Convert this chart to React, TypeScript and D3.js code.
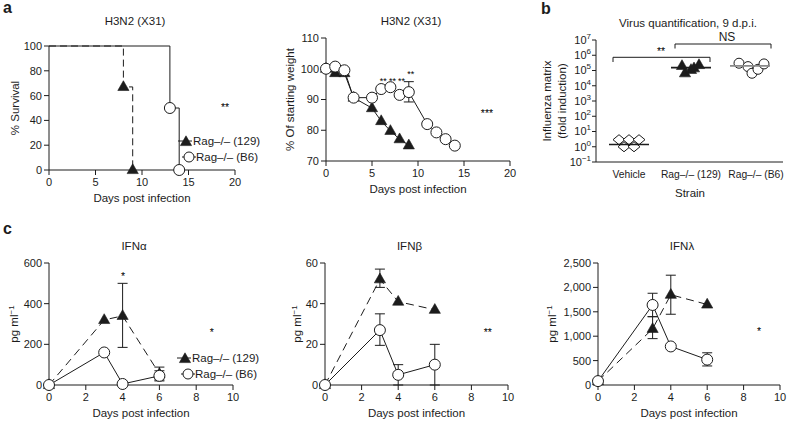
import React from "react";
import * as d3 from "d3";

const FONT = "'Liberation Sans', Arial, Helvetica, sans-serif";
const INK = "#1c1c1c";

// ---------- Panel a: survival ----------
const survivalDays129 = [0, 8, 9];
const survival129 = [100, 67, 0];
const survivalDaysB6 = [0, 13, 14];
const survivalB6 = [100, 50, 0];
const survivalXTicks = [0, 5, 10, 15, 20];
const survivalYTicks = [0, 20, 40, 60, 80, 100];

// ---------- Panel a: weight ----------
const weightDaysB6 = [0, 1, 2, 3, 5, 6, 7, 8, 9, 11, 12, 13, 14];
const weightB6 = [100, 100.7, 99.5, 90.6, 90.6, 93.4, 94, 91.5, 92.4, 82, 79.3, 77.1, 75];
const weightErrDayB6 = 9;
const weightErrB6 = [89.2, 95.8];
const weightDays129 = [0, 1, 2, 3, 5, 6, 7, 8, 9];
const weight129 = [100, 98.6, 98.6, 90.6, 87.2, 83, 79.8, 77.1, 75.1];
const weightStarDays = [6, 7, 8, 9];
const weightStarLevels = [96.7, 96.7, 96.7, 98.9];
const weightXTicks = [0, 5, 10, 15, 20];
const weightYTicks = [70, 80, 90, 100, 110];

// ---------- Panel b: virus quantification ----------
const strains = ["Vehicle", "Rag–/– (129)", "Rag–/– (B6)"];
const vehicleValues = [2.9, 1.0, 2.9, 1.0, 2.9];
const rag129Values = [2.0e5, 6.6e4, 1.1e5, 1.4e5, 2.3e5];
const ragB6Values = [3.0e5, 1.8e5, 6.6e4, 1.2e5, 2.7e5];
const strainMeans = [1.4, 1.55e5, 2.0e5];
const jitterVehicle = [-10, -5, 0, 5, 10];
const jitter129 = [-8, -5, 1, 4, 9];
const jitterB6 = [-12, -3, 1, 7, 13];
const logExponents = [-1, 0, 1, 2, 3, 4, 5, 6, 7];

// ---------- Panel c: interferons ----------
const ifnDays = [0, 3, 4, 6];
const ifnA129 = [0, 320, 340, 55];
const ifnA129Err: (number[] | null)[] = [null, null, [185, 500], [25, 88]];
const ifnAB6 = [0, 160, 5, 45];
const ifnAB6Err: (number[] | null)[] = [null, null, null, [20, 70]];
const ifnB129 = [0, 52, 41, 37];
const ifnB129Err: (number[] | null)[] = [null, [48, 57], null, null];
const ifnBB6 = [0, 27, 5, 10];
const ifnBB6Err: (number[] | null)[] = [null, [19.5, 35], [0, 10], [0, 20]];
const ifnL129 = [80, 1150, 1850, 1650];
const ifnL129Err: (number[] | null)[] = [null, [950, 1400], [1450, 2250], null];
const ifnLB6 = [80, 1640, 790, 520];
const ifnLB6Err: (number[] | null)[] = [null, [1400, 1880], null, [390, 660]];
const ifnXTicks = [0, 2, 4, 6, 8, 10];
const ifnAYTicks = [0, 200, 400, 600];
const ifnBYTicks = [0, 20, 40, 60];
const ifnLYTicks = [0, 500, 1000, 1500, 2000, 2500];

const legendLabels = ["Rag–/– (129)", "Rag–/– (B6)"];

// ---------- helpers ----------
type Scale = (v: number) => number;

function Tri({ cx, cy }: { cx: number; cy: number }) {
  const s = 5.6;
  return (
    <path
      d={`M${cx},${cy - 6.2}L${cx + s},${cy + 3.6}L${cx - s},${cy + 3.6}Z`}
      fill={INK}
      stroke={INK}
      strokeWidth={0.6}
    />
  );
}
function Circ({ cx, cy, r = 5.5 }: { cx: number; cy: number; r?: number }) {
  return <circle cx={cx} cy={cy} r={r} fill="#fff" stroke={INK} strokeWidth={1} />;
}

function Axes({
  xs, ys, xTicks, yTicks, fmt = (v: number) => String(v), xTitle, yTitle, yTitleX, title, titleY,
}: {
  xs: d3.ScaleLinear<number, number>;
  ys: d3.ScaleLinear<number, number>;
  xTicks: number[];
  yTicks: number[];
  fmt?: (v: number) => string;
  xTitle: string;
  yTitle: React.ReactNode;
  yTitleX: number;
  title: string;
  titleY: number;
}) {
  const [x0, x1] = xs.range();
  const [y0, y1] = ys.range();
  const cx = (x0 + x1) / 2;
  const cy = (y0 + y1) / 2;
  return (
    <g>
      <line x1={x0} x2={x1} y1={y0} y2={y0} stroke={INK} />
      <line x1={x0} x2={x0} y1={y0} y2={y1} stroke={INK} />
      {xTicks.map((t) => (
        <g key={"x" + t}>
          <line x1={xs(t)} x2={xs(t)} y1={y0} y2={y0 + 5} stroke={INK} />
          <text x={xs(t)} y={y0 + 16} textAnchor="middle" fontSize={11}>
            {t}
          </text>
        </g>
      ))}
      {yTicks.map((t) => (
        <g key={"y" + t}>
          <line x1={x0 - 5} x2={x0} y1={ys(t)} y2={ys(t)} stroke={INK} />
          <text x={x0 - 7} y={ys(t)} dy="0.36em" textAnchor="end" fontSize={11}>
            {fmt(t)}
          </text>
        </g>
      ))}
      <text x={cx} y={y0 + 32} textAnchor="middle" fontSize={11.5}>
        {xTitle}
      </text>
      <text
        transform={`translate(${yTitleX},${cy}) rotate(-90)`}
        textAnchor="middle"
        dy="0.35em"
        fontSize={11.5}
      >
        {yTitle}
      </text>
      <text x={cx - 7} y={titleY} textAnchor="middle" fontSize={11.5}>
        {title}
      </text>
    </g>
  );
}

function ErrBar({ x, lo, hi, ys, cap = 5 }: { x: number; lo: number; hi: number; ys: Scale; cap?: number }) {
  return (
    <g stroke={INK} strokeWidth={1}>
      <line x1={x} x2={x} y1={ys(lo)} y2={ys(hi)} />
      <line x1={x - cap} x2={x + cap} y1={ys(hi)} y2={ys(hi)} />
      <line x1={x - cap} x2={x + cap} y1={ys(lo)} y2={ys(lo)} />
    </g>
  );
}

function Legend({ x, y1, y2 }: { x: number; y1: number; y2: number }) {
  return (
    <g>
      <line x1={x - 8} x2={x + 6} y1={y1} y2={y1} stroke={INK} />
      <Tri cx={x} cy={y1 + 1} />
      <text x={x + 7} y={y1} dy="0.36em" fontSize={11.5}>
        {legendLabels[0]}
      </text>
      <line x1={x - 4} x2={x + 10} y1={y2} y2={y2} stroke={INK} />
      <Circ cx={x + 3} cy={y2} r={5} />
      <text x={x + 10} y={y2} dy="0.36em" fontSize={11.5}>
        {legendLabels[1]}
      </text>
    </g>
  );
}

function Star({ x, y, s, size = 10.5 }: { x: number; y: number; s: string; size?: number }) {
  return (
    <text
      x={x}
      y={y + 5}
      textAnchor="middle"
      fontSize={size}
      fill="#000"
      transform={`rotate(0.01 ${x} ${y})`}
    >
      {s}
    </text>
  );
}

function IfnPanel({
  xr, yDomain, yTicks, fmt, title, yTitleX, tri, triErr, circ, circErr, star, starPos, legend,
}: {
  xr: [number, number];
  yDomain: [number, number];
  yTicks: number[];
  fmt?: (v: number) => string;
  title: string;
  yTitleX: number;
  tri: number[];
  triErr: (number[] | null)[];
  circ: number[];
  circErr: (number[] | null)[];
  star: string;
  starPos: [number, number];
  legend?: boolean;
}) {
  const xs = d3.scaleLinear().domain([0, 10]).range(xr);
  const ys = d3.scaleLinear().domain(yDomain).range([385, 263]);
  const line = d3.line<number>().x((_, i) => xs(ifnDays[i])).y((d) => ys(d));
  return (
    <g>
      <Axes
        xs={xs}
        ys={ys}
        xTicks={ifnXTicks}
        yTicks={yTicks}
        fmt={fmt}
        xTitle="Days post infection"
        yTitle={
          <>
            pg ml<tspan dy={-4} fontSize={8}>−1</tspan>
          </>
        }
        yTitleX={yTitleX}
        title={title}
        titleY={250}
      />
      <path d={line(tri) || ""} fill="none" stroke={INK} strokeDasharray="8,5" />
      <path d={line(circ) || ""} fill="none" stroke={INK} />
      {triErr.map((e, i) => (e ? <ErrBar key={"te" + i} x={xs(ifnDays[i])} lo={e[0]} hi={e[1]} ys={ys} /> : null))}
      {circErr.map((e, i) => (e ? <ErrBar key={"ce" + i} x={xs(ifnDays[i])} lo={e[0]} hi={e[1]} ys={ys} /> : null))}
      {tri.map((v, i) => (
        <Tri key={"t" + i} cx={xs(ifnDays[i])} cy={ys(v)} />
      ))}
      {circ.map((v, i) => (
        <Circ key={"c" + i} cx={xs(ifnDays[i])} cy={ys(v)} />
      ))}
      <Star x={xs(starPos[0])} y={ys(starPos[1])} s={star} />
      {legend ? <Legend x={185} y1={358} y2={374} /> : null}
    </g>
  );
}

export default function App() {
  // Panel a survival
  const sx = d3.scaleLinear().domain([0, 20]).range([49, 235]);
  const sy = d3.scaleLinear().domain([0, 100]).range([170, 46]);
  const stepLine = (days: number[]) =>
    d3
      .line<number>()
      .x((_, i) => sx(days[i]))
      .y((d) => sy(d))
      .curve(d3.curveStepAfter);

  // Panel a weight
  const wx = d3.scaleLinear().domain([0, 20]).range([326, 510]);
  const wy = d3.scaleLinear().domain([70, 110]).range([161, 38]);
  const wLine = (days: number[]) =>
    d3
      .line<number>()
      .x((_, i) => wx(days[i]))
      .y((d) => wy(d));

  // Panel b
  const bx = d3.scalePoint<string>().domain(strains).range([629, 751]);
  const by = d3.scaleLog().domain([1e-1, 1e7]).range([162, 40]);
  const diamond = (cx: number, cy: number) =>
    `M${cx},${cy - 5}L${cx + 6},${cy}L${cx},${cy + 5}L${cx - 6},${cy}Z`;
  const labelShift = [0, 1, 5];

  const commaFmt = d3.format(",");

  return (
    <svg width={788} height={421} style={{ position: "absolute", left: 0, top: 0 }} fontFamily={FONT} fill={INK}>
      <rect x={0} y={0} width={788} height={421} fill="#fff" />

      {/* panel letters */}
      <text x={3} y={13} fontSize={16} fontWeight="bold">a</text>
      <text x={541} y={14} fontSize={16} fontWeight="bold">b</text>
      <text x={3} y={234} fontSize={16} fontWeight="bold">c</text>

      {/* ---- a: survival ---- */}
      <Axes
        xs={sx}
        ys={sy}
        xTicks={survivalXTicks}
        yTicks={survivalYTicks}
        xTitle="Days post infection"
        yTitle="% Survival"
        yTitleX={15}
        title="H3N2 (X31)"
        titleY={25}
      />
      <path d={stepLine(survivalDaysB6)(survivalB6) || ""} fill="none" stroke={INK} />
      <path d={stepLine(survivalDays129)(survival129) || ""} fill="none" stroke={INK} strokeDasharray="7,4" />
      {survival129.slice(1).map((v, i) => (
        <Tri key={"s129" + i} cx={sx(survivalDays129[i + 1])} cy={sy(v)} />
      ))}
      {survivalB6.slice(1).map((v, i) => (
        <Circ key={"sb6" + i} cx={sx(survivalDaysB6[i + 1])} cy={sy(v)} />
      ))}
      <Star x={225} y={sy(52)} s="**" />
      <Legend x={186} y1={141} y2={157} />

      {/* ---- a: weight ---- */}
      <Axes
        xs={wx}
        ys={wy}
        xTicks={weightXTicks}
        yTicks={weightYTicks}
        xTitle="Days post infection"
        yTitle="% Of starting weight"
        yTitleX={290}
        title="H3N2 (X31)"
        titleY={25}
      />
      <path d={wLine(weightDays129)(weight129) || ""} fill="none" stroke={INK} />
      <path d={wLine(weightDaysB6)(weightB6) || ""} fill="none" stroke={INK} />
      <ErrBar x={wx(weightErrDayB6)} lo={weightErrB6[0]} hi={weightErrB6[1]} ys={wy} />
      {weight129.map((v, i) => (
        <Tri key={"w129" + i} cx={wx(weightDays129[i])} cy={wy(v)} />
      ))}
      {weightB6.map((v, i) => (
        <Circ key={"wb6" + i} cx={wx(weightDaysB6[i])} cy={wy(v)} />
      ))}
      {weightStarDays.map((d, i) => (
        <Star key={"ws" + i} x={wx(d) + 2} y={wy(weightStarLevels[i])} s="**" size={9} />
      ))}
      <Star x={487} y={wy(85.8)} s="***" />

      {/* ---- b: virus ---- */}
      <g>
        <line x1={596} x2={783} y1={162} y2={162} stroke={INK} />
        <line x1={596} x2={596} y1={162} y2={40} stroke={INK} />
        {logExponents.map((e) => (
          <g key={"b" + e}>
            <line x1={592} x2={596} y1={by(Math.pow(10, e))} y2={by(Math.pow(10, e))} stroke={INK} />
            <text x={591} y={by(Math.pow(10, e))} dy="0.36em" textAnchor="end" fontSize={11}>
              10
              <tspan dy={-5} fontSize={8}>
                {e < 0 ? "−" + Math.abs(e) : String(e)}
              </tspan>
            </text>
          </g>
        ))}
        {strains.map((s, i) => (
          <text key={s} x={(bx(s) || 0) + labelShift[i]} y={178} textAnchor="middle" fontSize={10.3}>
            {s}
          </text>
        ))}
        <text x={690} y={197} textAnchor="middle" fontSize={11.5}>
          Strain
        </text>
        <text transform="translate(547,101) rotate(-90)" textAnchor="middle" dy="0.35em" fontSize={11.5}>
          Influenza matrix
        </text>
        <text transform="translate(562,101) rotate(-90)" textAnchor="middle" dy="0.35em" fontSize={11.5}>
          (fold induction)
        </text>
        <text x={688} y={27} textAnchor="middle" fontSize={11.5}>
          Virus quantification, 9 d.p.i.
        </text>
        {/* brackets */}
        <path d="M613,62V57.3H710V62" fill="none" stroke={INK} />
        <Star x={661} y={50} s="**" />
        <path d="M675,48.5V44H771V48.5" fill="none" stroke={INK} />
        <text x={727} y={41} textAnchor="middle" fontSize={12}>NS</text>
        {/* vehicle */}
        {vehicleValues.map((v, i) => (
          <path key={"bv" + i} d={diamond((bx(strains[0]) || 0) + jitterVehicle[i], by(v))} fill="#fff" stroke={INK} />
        ))}
        <line
          x1={(bx(strains[0]) || 0) - 20}
          x2={(bx(strains[0]) || 0) + 20}
          y1={by(strainMeans[0])}
          y2={by(strainMeans[0])}
          stroke={INK}
          strokeWidth={1.6}
        />
        {/* 129 */}
        <line
          x1={(bx(strains[1]) || 0) - 19}
          x2={(bx(strains[1]) || 0) + 21}
          y1={by(strainMeans[1])}
          y2={by(strainMeans[1])}
          stroke={INK}
          strokeWidth={1.6}
        />
        {rag129Values.map((v, i) => (
          <Tri key={"b129" + i} cx={(bx(strains[1]) || 0) + jitter129[i]} cy={by(v)} />
        ))}
        {/* B6 */}
        {ragB6Values.map((v, i) => (
          <Circ key={"bb6" + i} cx={(bx(strains[2]) || 0) + jitterB6[i]} cy={by(v)} r={5} />
        ))}
        <line
          x1={(bx(strains[2]) || 0) - 21}
          x2={(bx(strains[2]) || 0) + 19}
          y1={by(strainMeans[2])}
          y2={by(strainMeans[2])}
          stroke="#8a8a8a"
          strokeWidth={1.8}
        />
      </g>

      {/* ---- c ---- */}
      <IfnPanel
        xr={[49, 233]}
        yDomain={[0, 600]}
        yTicks={ifnAYTicks}
        title="IFNα"
        yTitleX={14}
        tri={ifnA129}
        triErr={ifnA129Err}
        circ={ifnAB6}
        circErr={ifnAB6Err}
        star="*"
        starPos={[8.85, 265]}
        legend
      />
      <Star x={123} y={275} s="*" />
      <IfnPanel
        xr={[325, 508]}
        yDomain={[0, 60]}
        yTicks={ifnBYTicks}
        title="IFNβ"
        yTitleX={297}
        tri={ifnB129}
        triErr={ifnB129Err}
        circ={ifnBB6}
        circErr={ifnBB6Err}
        star="**"
        starPos={[8.9, 26.6]}
      />
      <IfnPanel
        xr={[598, 780]}
        yDomain={[0, 2500]}
        yTicks={ifnLYTicks}
        fmt={commaFmt}
        title="IFNλ"
        yTitleX={552}
        tri={ifnL129}
        triErr={ifnL129Err}
        circ={ifnLB6}
        circErr={ifnLB6Err}
        star="*"
        starPos={[8.85, 1130]}
      />
    </svg>
  );
}
